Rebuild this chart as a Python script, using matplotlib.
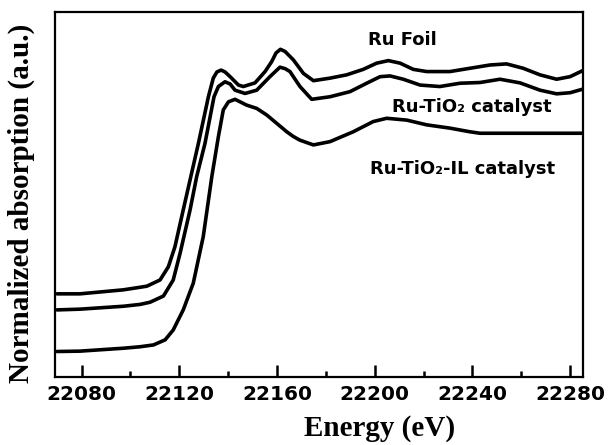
import matplotlib.pyplot as plt
from matplotlib.ticker import MultipleLocator

# Ru K-edge XANES (y in normalized plot units)
energy_foil = [22069.9, 22079.3, 22097.1, 22103.9, 22106.7, 22112.1, 22115.5, 22118.2,
               22121.6, 22124.7, 22127.8, 22131.9, 22133.9, 22135.4, 22137.1, 22138.7,
               22140.8, 22144.2, 22146.2, 22151.0, 22155.1, 22157.8, 22159.6, 22161.4,
               22163.3, 22166.7, 22170.8, 22174.9, 22181.7, 22188.5, 22195.3, 22200.8,
               22205.6, 22210.4, 22215.8, 22221.3, 22230.8, 22239.0, 22247.2, 22254.0,
               22260.8, 22267.7, 22274.5, 22280.0, 22285.3]
absorb_foil = [0.227, 0.227, 0.238, 0.245, 0.248, 0.265, 0.301, 0.356,
               0.457, 0.548, 0.639, 0.767, 0.818, 0.835, 0.840, 0.835,
               0.822, 0.799, 0.795, 0.805, 0.836, 0.863, 0.887, 0.897,
               0.891, 0.868, 0.831, 0.811, 0.818, 0.827, 0.842, 0.859,
               0.866, 0.859, 0.842, 0.836, 0.836, 0.845, 0.854, 0.857,
               0.845, 0.827, 0.815, 0.822, 0.839]

energy_tio2 = [22069.9, 22079.3, 22097.1, 22103.9, 22108.0, 22113.5, 22117.5, 22120.3,
               22124.4, 22127.1, 22130.5, 22134.2, 22136.0, 22138.7, 22140.8, 22142.8,
               22146.9, 22151.7, 22157.1, 22161.2, 22163.3, 22165.3, 22169.4, 22174.2,
               22181.7, 22189.9, 22196.7, 22202.2, 22206.3, 22211.7, 22218.6, 22226.7,
               22234.9, 22243.1, 22251.3, 22259.5, 22267.7, 22274.5, 22280.0, 22285.3]
absorb_tio2 = [0.183, 0.185, 0.193, 0.198, 0.204, 0.221, 0.265, 0.338,
               0.457, 0.548, 0.639, 0.767, 0.795, 0.808, 0.802, 0.785,
               0.776, 0.785, 0.822, 0.848, 0.844, 0.836, 0.795, 0.760,
               0.767, 0.781, 0.804, 0.822, 0.824, 0.815, 0.799, 0.795,
               0.804, 0.806, 0.815, 0.805, 0.785, 0.775, 0.778, 0.788]

energy_il = [22069.9, 22079.3, 22097.1, 22103.9, 22109.4, 22114.2, 22117.5, 22121.6,
             22125.7, 22129.8, 22133.3, 22136.0, 22138.0, 22140.1, 22142.8, 22147.6,
             22151.7, 22155.8, 22159.9, 22164.0, 22166.7, 22169.4, 22174.9, 22181.7,
             22191.2, 22199.4, 22204.9, 22213.1, 22221.3, 22230.8, 22239.0, 22243.1,
             22285.3]
absorb_il = [0.069, 0.070, 0.078, 0.082, 0.087, 0.101, 0.128, 0.183,
             0.256, 0.384, 0.548, 0.658, 0.731, 0.753, 0.760, 0.744,
             0.735, 0.717, 0.694, 0.671, 0.658, 0.648, 0.635, 0.644,
             0.671, 0.699, 0.708, 0.703, 0.690, 0.681, 0.671, 0.667,
             0.667]

labels = ['Ru Foil', 'Ru-TiO\u2082 catalyst', 'Ru-TiO\u2082-IL catalyst']
label_pos = [(22211.4, 0.909), (22239.6, 0.725), (22235.9, 0.555)]

fig = plt.figure(figsize=(6.08, 4.45), dpi=100)
ax = fig.add_axes([0.0905, 0.1535, 0.8684, 0.8202])

for x, y in [(energy_foil, absorb_foil), (energy_tio2, absorb_tio2), (energy_il, absorb_il)]:
    ax.plot(x, y, color='black', lw=2.6, solid_joinstyle='round', solid_capstyle='round')

for text, (x, y) in zip(labels, label_pos):
    ax.text(x, y, text, ha='center', va='baseline', fontsize=13,
            fontweight='bold', family='DejaVu Sans')

ax.set_xlim(22069.1, 22285.3)
ax.set_ylim(0, 1)
ax.xaxis.set_major_locator(MultipleLocator(40))
ax.xaxis.set_minor_locator(MultipleLocator(20))
ax.tick_params(axis='x', which='major', direction='in', length=9, width=1.8,
               pad=6, labelsize=14.5, top=False)
ax.tick_params(axis='x', which='minor', direction='in', length=4.5, width=1.8, top=False)
ax.set_yticks([])
for lbl in ax.get_xticklabels():
    lbl.set_fontweight('bold')
for sp in ax.spines.values():
    sp.set_linewidth(1.6)

ax.set_xlabel('Energy (eV)', family='Liberation Serif', fontweight='bold', fontsize=21)
ax.xaxis.set_label_coords(0.614, -0.105)
ax.set_ylabel('Normalized absorption (a.u.)', family='Liberation Serif',
              fontweight='bold', fontsize=21)
ax.yaxis.set_label_coords(-0.038, 0.4745)

fig.savefig('out.png', dpi=100)
